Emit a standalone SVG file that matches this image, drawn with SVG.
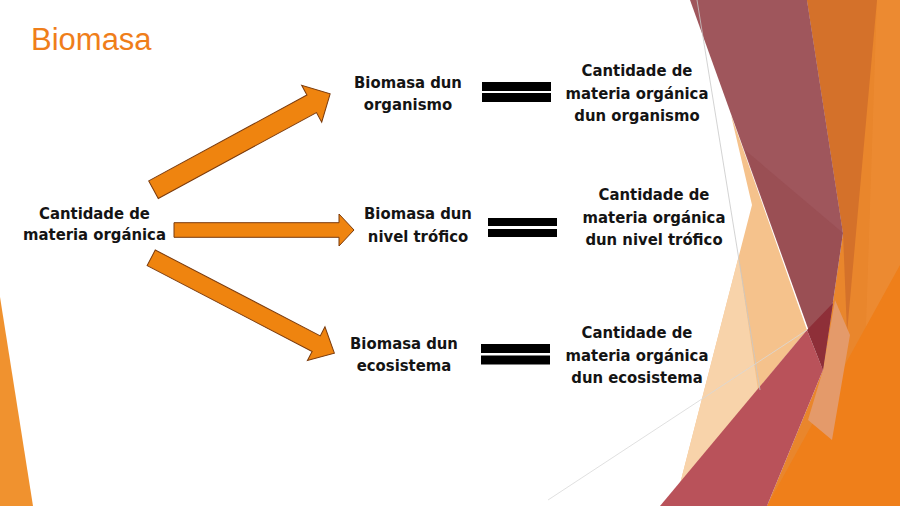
<svg xmlns="http://www.w3.org/2000/svg" width="900" height="506" viewBox="0 0 900 506">
<defs>
<style>
.t{font-family:"DejaVu Sans Condensed","DejaVu Sans","Liberation Sans",sans-serif;font-weight:bold;font-size:16.5px;fill:#141414;text-anchor:middle}
.title{font-family:"Liberation Sans","DejaVu Sans",sans-serif;font-size:31px;fill:#EF7E1A}
.arrow{fill:#EF840F;stroke:#7A3A0C;stroke-width:1}
.eq{fill:#000}
</style>
</defs>
<rect x="0" y="0" width="900" height="506" fill="#FFFFFF"/>
<g id="decoration">
<polygon points="0,297 33,506 0,506" fill="#F0922F"/>
<polygon points="807,0 900,0 900,506 767,506 823,370 843,233" fill="#E9862C"/>
<polygon points="877,0 900,0 900,506 860,506" fill="#EE8E35" opacity="0.6"/>
<polygon points="807,0 877,0 847,333 843,233" fill="#D4712A"/>
<polygon points="767,506 900,506 900,265" fill="#EF7F1A"/>
<polygon points="731,115 807,330 680,484 752,205" fill="#F5C28C"/>
<polygon points="738.5,257 758,390 680,484" fill="#F8D3AA"/>
<polygon points="690,0 807,0 843,233 823,370" fill="#9F565C"/>
<polygon points="745,150 843,233 823,370" fill="#8E3E42" opacity="0.3"/>
<polygon points="823,370 835,300 850,335 832,440 808,420" fill="#E49A6A"/>
<polygon points="660,506 767,506 823,370 807,330" fill="#B9525A"/>
<polygon points="807,330 833,303 823,370" fill="#8E2F38"/>
<line x1="697" y1="0" x2="760" y2="390" stroke="#C8C8C8" stroke-width="0.8"/>
<line x1="548" y1="500" x2="807" y2="330" stroke="#D8D8D8" stroke-width="0.8"/>
</g>
<text class="title" x="31" y="50">Biomasa</text>
<g id="connectors">
<polygon class="arrow" transform="translate(153.5,189.7) rotate(-28.5)" points="0,-10 180,-10 180,-21 201,0 180,21 180,10 0,10"/>
<polygon class="arrow" transform="translate(174,230)" points="0,-7.3 165,-7.3 165,-16 180,0 165,16 165,7.3 0,7.3"/>
<polygon class="arrow" transform="translate(151.2,257.8) rotate(27.5)" points="0,-8.8 186,-8.8 186,-19 206.5,0 186,19 186,8.8 0,8.8"/>
</g>
<g id="source">
<text class="t" x="94.5" y="219.3">Cantidade de</text>
<text class="t" x="94.5" y="240">materia orgánica</text>
</g>
<g id="node-organismo">
<text class="t" x="408" y="88">Biomasa dun</text>
<text class="t" x="408" y="110">organismo</text>
</g>
<g id="node-nivel">
<text class="t" x="418" y="219.3">Biomasa dun</text>
<text class="t" x="418" y="241.7">nivel trófico</text>
</g>
<g id="node-ecosistema">
<text class="t" x="404" y="349">Biomasa dun</text>
<text class="t" x="404" y="371">ecosistema</text>
</g>
<g id="eq-organismo">
<rect class="eq" x="482" y="82" width="69" height="9"/>
<rect class="eq" x="482" y="93" width="69" height="9"/>
</g>
<g id="eq-nivel">
<rect class="eq" x="488" y="218" width="69" height="8"/>
<rect class="eq" x="488" y="229" width="69" height="8"/>
</g>
<g id="eq-ecosistema">
<rect class="eq" x="481" y="344" width="69" height="9"/>
<rect class="eq" x="481" y="355.5" width="69" height="9"/>
</g>
<g id="def-organismo">
<text class="t" x="637" y="76">Cantidade de</text>
<text class="t" x="637" y="98.5">materia orgánica</text>
<text class="t" x="637" y="121">dun organismo</text>
</g>
<g id="def-nivel">
<text class="t" x="654" y="200">Cantidade de</text>
<text class="t" x="654" y="222.7">materia orgánica</text>
<text class="t" x="654" y="245">dun nivel trófico</text>
</g>
<g id="def-ecosistema">
<text class="t" x="637" y="338.3">Cantidade de</text>
<text class="t" x="637" y="360.7">materia orgánica</text>
<text class="t" x="637" y="383.3">dun ecosistema</text>
</g>
</svg>
